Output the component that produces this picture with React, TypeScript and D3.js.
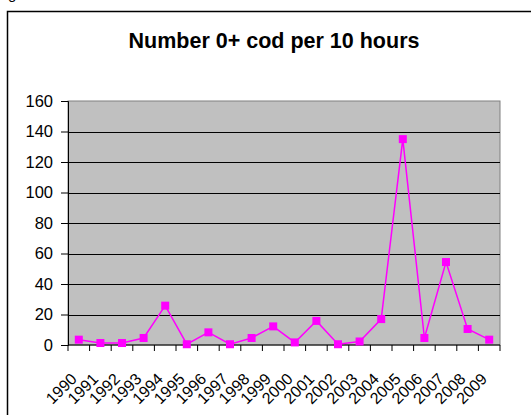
import React, { useEffect, useRef } from 'react';
import * as d3 from 'd3';

const years = ['1990', '1991', '1992', '1993', '1994', '1995', '1996', '1997', '1998', '1999',
  '2000', '2001', '2002', '2003', '2004', '2005', '2006', '2007', '2008', '2009'];
const codPer10h = [3.5, 1.3, 1.3, 4.6, 25.8, 0.5, 8.3, 0.5, 4.6, 12.2,
  1.7, 15.8, 0.5, 2.3, 17, 135, 4.6, 54.4, 10.5, 3.5];
const yTicks = [0, 20, 40, 60, 80, 100, 120, 140, 160];

const App = () => {
  const svgRef = useRef<SVGSVGElement>(null);

  useEffect(() => {
    const svg = d3.select(svgRef.current);
    svg.selectAll('*').remove();

    const width = 531;
    const height = 415;
    const margin = { top: 101, right: 31, bottom: 70, left: 68 };
    const font = 'Arial, "Liberation Sans", sans-serif';

    // outer frame (runs off the right and bottom edges)
    svg.append('rect')
      .attr('x', 7.5).attr('y', 11.5)
      .attr('width', 540).attr('height', 440)
      .attr('fill', '#fff').attr('stroke', '#000').attr('stroke-width', 1.5);

    // leftover descender of a caption above the chart
    svg.append('text')
      .attr('x', 8).attr('y', -1)
      .style('font-family', font).style('font-size', '15px')
      .text('g');

    const x = d3.scaleBand()
      .domain(years)
      .range([margin.left, width - margin.right])
      .padding(0);

    const y = d3.scaleLinear()
      .domain([0, 160])
      .range([height - margin.bottom, margin.top]);

    // plot area
    svg.append('rect')
      .attr('x', margin.left).attr('y', margin.top)
      .attr('width', width - margin.right - margin.left)
      .attr('height', height - margin.bottom - margin.top)
      .attr('fill', '#C0C0C0').attr('stroke', '#808080').attr('stroke-width', 1);

    // gridlines
    svg.append('g')
      .selectAll('line')
      .data(yTicks.filter(d => d > 0 && d < 160))
      .join('line')
      .attr('x1', margin.left).attr('x2', width - margin.right)
      .attr('y1', d => Math.round(y(d)) + 0.5).attr('y2', d => Math.round(y(d)) + 0.5)
      .attr('stroke', '#000').attr('stroke-width', 1);

    // y axis
    const yAxis = svg.append('g')
      .attr('transform', `translate(${margin.left},0)`)
      .call(d3.axisLeft(y).tickValues(yTicks).tickSize(7).tickPadding(8));
    yAxis.select('.domain').attr('stroke', '#000');
    yAxis.selectAll('text')
      .style('font-family', font).style('font-size', '16.5px').attr('fill', '#000');

    // x axis: ticks at category boundaries
    const xAxis = svg.append('g')
      .attr('transform', `translate(0,${height - margin.bottom})`);
    xAxis.append('line')
      .attr('x1', margin.left).attr('x2', width - margin.right)
      .attr('stroke', '#000');
    xAxis.selectAll('line.tick')
      .data(d3.range(years.length + 1))
      .join('line')
      .attr('class', 'tick')
      .attr('x1', i => margin.left + i * x.bandwidth())
      .attr('x2', i => margin.left + i * x.bandwidth())
      .attr('y1', 0).attr('y2', 6)
      .attr('stroke', '#000');
    xAxis.selectAll('text')
      .data(years)
      .join('text')
      .attr('transform', d => `translate(${x(d)! + x.bandwidth() / 2 - 9},27) rotate(-45)`)
      .attr('text-anchor', 'end')
      .attr('dy', '0.7em')
      .style('font-family', font).style('font-size', '16px')
      .text(d => d);

    // line + markers
    const line = d3.line<number>()
      .x((_, i) => x(years[i])! + x.bandwidth() / 2)
      .y(d => y(d));

    svg.append('path')
      .datum(codPer10h)
      .attr('d', line)
      .attr('fill', 'none')
      .attr('stroke', '#FF00FF')
      .attr('stroke-width', 1.5);

    svg.append('g')
      .selectAll('rect')
      .data(codPer10h)
      .join('rect')
      .attr('x', (_, i) => x(years[i])! + x.bandwidth() / 2 - 4)
      .attr('y', d => y(d) - 4)
      .attr('width', 8).attr('height', 8)
      .attr('fill', '#FF00FF');

    // title
    svg.append('text')
      .attr('x', 274)
      .attr('y', 48)
      .attr('text-anchor', 'middle')
      .style('font-family', font)
      .style('font-size', '21.5px')
      .style('font-weight', 'bold')
      .text('Number 0+ cod per 10 hours');
  }, []);

  return (
    <svg ref={svgRef} width="531" height="415"
      style={{ position: 'absolute', left: 0, top: 0 }} />
  );
};

export default App;
